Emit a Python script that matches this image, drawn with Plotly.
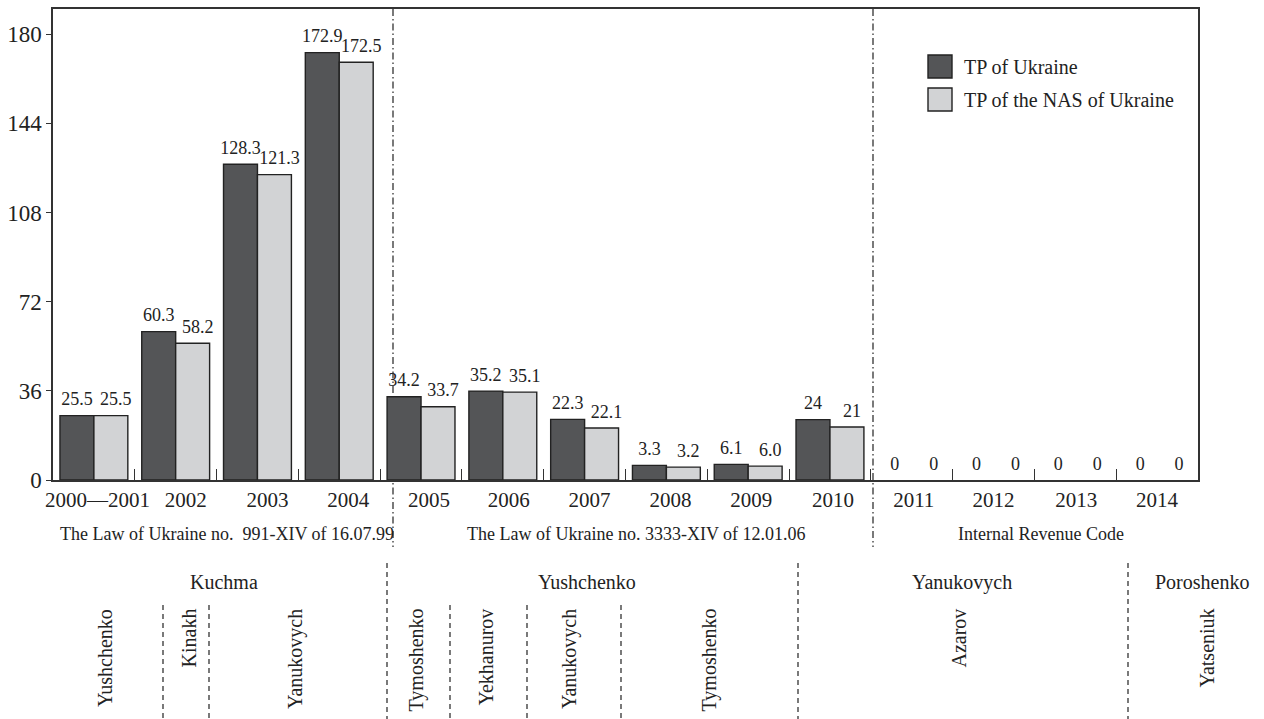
import plotly.graph_objects as go

# ---------------- data ----------------
categories = ["2000\u20142001", "2002", "2003", "2004", "2005", "2006", "2007",
              "2008", "2009", "2010", "2011", "2012", "2013", "2014"]
series_names = ["TP of Ukraine", "TP of the NAS of Ukraine"]
# bar heights as drawn in the picture
tp_ukraine = [26.0, 59.9, 127.5, 172.6, 33.6, 35.9, 24.5, 5.9, 6.3, 24.4, 0, 0, 0, 0]
tp_nas = [26.0, 55.2, 123.3, 168.7, 29.6, 35.5, 21.0, 5.2, 5.6, 21.4, 0, 0, 0, 0]
# value labels printed above the bars
tp_ukraine_labels = ["25.5", "60.3", "128.3", "172.9", "34.2", "35.2", "22.3",
                     "3.3", "6.1", "24", "0", "0", "0", "0"]
tp_nas_labels = ["25.5", "58.2", "121.3", "172.5", "33.7", "35.1", "22.1",
                 "3.2", "6.0", "21", "0", "0", "0", "0"]
y_ticks = [0, 36, 72, 108, 144, 180]

laws = ["The Law of Ukraine no.  991-XIV of 16.07.99",
        "The Law of Ukraine no. 3333-XIV of 12.01.06",
        "Internal Revenue Code"]
presidents = ["Kuchma", "Yushchenko", "Yanukovych", "Poroshenko"]
prime_ministers = ["Yushchenko", "Kinakh", "Yanukovych", "Tymoshenko", "Yekhanurov",
                   "Yanukovych", "Tymoshenko", "Azarov", "Yatseniuk"]

# ---------------- style / layout ----------------
W, H = 1264, 719
L, R, T, B = 53, 66, 9, 239
PW = W - L - R
PH = H - T - B
FONT = "Liberation Serif"
INK = "#222222"
DARK = "#545557"
LIGHT = "#d2d3d5"
n = len(categories)
unit = PW / n
BARGAP = 0.17
half = (1 - BARGAP) / 4  # offset of each bar's centre from the category centre


def yp(py):  # pixel y -> paper y
    return (H - B - py) / PH


def xp(px):  # pixel x -> paper x
    return (px - L) / PW


tick_nudge_px = [3.5, 10, 10, 9, 8, 6, 5, 4, 3, 3, 2, 0, 1, 0]
label_nudge_px = [0, 5]   # light-bar labels sit slightly to the right
xs = list(range(n))

fig = go.Figure()
series = [(tp_ukraine, tp_ukraine_labels, DARK, -half),
          (tp_nas, tp_nas_labels, LIGHT, half)]
for vals, labels, color, off in series:
    fig.add_trace(go.Bar(
        x=xs, y=vals,
        marker=dict(color=color,
                    line=dict(color=INK, width=[1.4 if v > 0 else 0 for v in vals])),
        showlegend=False, hoverinfo="y",
    ))
for k, (vals, labels, color, off) in enumerate(series):
    fig.add_trace(go.Scatter(
        x=[i + off + label_nudge_px[k] / unit for i in xs], y=vals,
        text=labels, mode="markers+text", textposition="top center",
        marker=dict(size=8, opacity=0),
        textfont=dict(family=FONT, size=18, color=INK),
        cliponaxis=False, showlegend=False, hoverinfo="skip",
    ))

fig.update_layout(
    width=W, height=H,
    margin=dict(l=L, r=R, t=T, b=B, autoexpand=False),
    paper_bgcolor="white", plot_bgcolor="white",
    barmode="group", bargap=BARGAP, bargroupgap=0,
    font=dict(family=FONT, color=INK),
)
fig.update_xaxes(
    range=[-0.5, n - 0.5],
    tickmode="array",
    tickvals=[i + tick_nudge_px[i] / unit for i in xs],
    ticktext=categories,
    ticks="", tickfont=dict(family=FONT, size=21, color=INK),
    showgrid=False, zeroline=False,
    showline=True, mirror=True, linecolor="#333", linewidth=1.5,
    minor=dict(ticks="inside", ticklen=11, tickwidth=1.3, tickcolor="#333",
               tickmode="array", tickvals=[i + 0.5 for i in range(n - 1)],
               showgrid=False),
)
fig.update_yaxes(
    range=[0, 190.2],
    tickmode="array", tickvals=y_ticks,
    ticks="outside", ticklen=5, tickwidth=1.3, tickcolor="#333",
    tickfont=dict(family=FONT, size=23, color=INK),
    showgrid=False, zeroline=False,
    showline=True, mirror=True, linecolor="#333", linewidth=1.5,
)

shapes = []
annotations = []

# dash-dot separators of the legal periods
for px in [393, 873]:
    shapes.append(dict(type="line", xref="paper", yref="paper", x0=xp(px), x1=xp(px),
                       y0=1, y1=yp(547), layer="below",
                       line=dict(color="#333", width=1.3, dash="7px,3px,1.5px,3px")))

# law annotations
for txt, px in zip(laws, [227, 636, 1041]):
    annotations.append(dict(text=txt, xref="paper", yref="paper", x=xp(px), y=yp(534),
                            xanchor="center", yanchor="middle", showarrow=False,
                            font=dict(family=FONT, size=18, color=INK)))

# presidents
for txt, px in zip(presidents, [224, 587, 962, 1202]):
    annotations.append(dict(text=txt, xref="paper", yref="paper", x=xp(px), y=yp(582),
                            xanchor="center", yanchor="middle", showarrow=False,
                            font=dict(family=FONT, size=20, color=INK)))

# prime ministers (rotated)
for txt, px in zip(prime_ministers, [105, 188, 295, 416, 485, 569, 709, 958, 1206]):
    annotations.append(dict(text=txt, xref="paper", yref="paper", x=xp(px), y=yp(607),
                            xanchor="center", yanchor="top", textangle=-90,
                            showarrow=False,
                            font=dict(family=FONT, size=20, color=INK)))

# dashed separators: presidents (long) and prime ministers (short)
for px in [387, 798, 1128]:
    shapes.append(dict(type="line", xref="paper", yref="paper", x0=xp(px), x1=xp(px),
                       y0=yp(563), y1=yp(719),
                       line=dict(color="#333", width=1.3, dash="5px,4px")))
for px in [163, 209, 450, 527, 621]:
    shapes.append(dict(type="line", xref="paper", yref="paper", x0=xp(px), x1=xp(px),
                       y0=yp(605), y1=yp(719),
                       line=dict(color="#333", width=1.3, dash="5px,4px")))

# legend drawn manually (large square swatches)
for k, (name, color) in enumerate(zip(series_names, [DARK, LIGHT])):
    top = 55 + 33 * k
    shapes.append(dict(type="rect", xref="paper", yref="paper",
                       x0=xp(928), x1=xp(952), y0=yp(top), y1=yp(top + 23),
                       fillcolor=color, line=dict(color=INK, width=1.4)))
    annotations.append(dict(text=name, xref="paper", yref="paper",
                            x=xp(962), y=yp(top + 12), xanchor="left", yanchor="middle",
                            showarrow=False, font=dict(family=FONT, size=20, color=INK)))

fig.update_layout(shapes=shapes, annotations=annotations)
fig.write_html("out.html", config={"displayModeBar": False},
               post_script="document.body.style.margin='0';document.body.style.overflow='hidden';")
